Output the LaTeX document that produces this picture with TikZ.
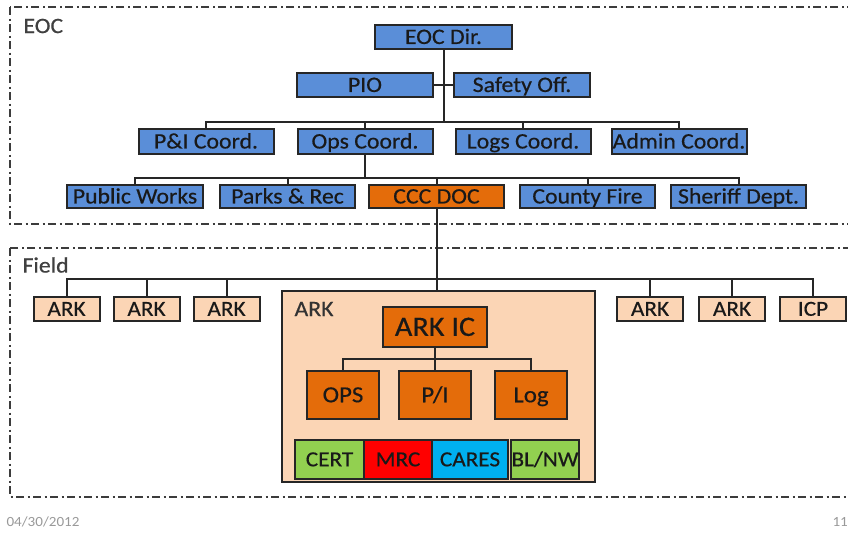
\documentclass[tikz,border=0pt]{standalone}
\usepackage{fontspec}
\setmainfont{Carlito}[FakeStretch=1.08, FakeBold=0.5]
\newfontfamily\fussfont{Carlito}[FakeStretch=1.08]
\usetikzlibrary{positioning}
\definecolor{amt}{HTML}{5A8ED8}
\definecolor{glut}{HTML}{E46C0A}
\definecolor{haut}{HTML}{FBD5B5}
\definecolor{gras}{HTML}{92D050}
\definecolor{rot}{HTML}{FF0000}
\definecolor{eis}{HTML}{00B0F0}
\definecolor{kante}{HTML}{262626}

\begin{document}
\begin{tikzpicture}[x=1pt, y=-1pt,
      box/.style={draw=kante, line width=2pt, fill=amt, text=black!90,
        inner sep=0pt, outer sep=0pt, minimum width=135pt, minimum height=24pt,
        text height=13.9pt, text depth=0pt,
        font=\fontsize{22}{24}\selectfont},
      hot/.style={box, fill=glut},
      ark/.style={box, fill=haut, minimum width=66pt, text height=13.6pt,
        font=\fontsize{21.5}{23}\selectfont},
      team/.style={box, minimum height=39pt, text height=13.6pt,
        font=\fontsize{21.5}{23}\selectfont},
      sect/.style={hot, minimum width=72pt, minimum height=48pt, text height=14.5pt,
        font=\fontsize{23}{25}\selectfont},
      zone/.style={text=black!75, anchor=west, font=\fontsize{22}{24}\selectfont},
      verb/.style={draw=kante, line width=2pt},
      rahmen/.style={draw=kante!90, line width=1.6pt,
        dash pattern=on 8pt off 3.5pt on 2pt off 3.5pt},
      fuss/.style={text=black!40, anchor=west, font=\fussfont\fontsize{14}{15}\selectfont}]
    \useasboundingbox (0,0) rectangle (848,533);
    \clip (0,0) rectangle (848,533);

    % dashed areas
    \draw[rahmen] (10,7) rectangle (870,224);
    \draw[rahmen] (10,248) rectangle (870,497);
    \node[zone] (eoc) at (20,26) {EOC};
    \node[zone] (field) at (19,265) {Field};

    % EOC
    \node[box, minimum width=137pt] (dir) at (443.5,37) {EOC Dir.};
    \node[box, minimum width=136pt] (pio) at (365,85) {PIO};
    \node[box, minimum width=136pt, right=21pt of pio] (safe) {Safety Off.};
    \node[box, minimum height=25pt] (pi) at (206,141.5) {P\&I Coord.};
    \node[box, minimum height=25pt, right=24pt of pi] (ops) {Ops Coord.};
    \node[box, minimum height=25pt, right=23pt of ops] (logs) {Logs Coord.};
    \node[box, minimum height=25pt, right=21pt of logs] (admin) {Admin Coord.};
    \node[box, minimum width=136pt, minimum height=23pt] (pw) at (135,196.5) {Public Works};
    \node[box, minimum height=23pt, right=17pt of pw] (parks) {Parks \& Rec};
    \node[hot, minimum height=23pt, right=14pt of parks] (doc) {CCC DOC};
    \node[box, minimum height=23pt, right=16pt of doc] (fire) {County Fire};
    \node[box, minimum height=23pt, right=16pt of fire] (sheriff) {Sheriff Dept.};

    \coordinate (k1) at (dir.south |- 0,122);
    \coordinate (k2) at (ops.south |- 0,178);
    \draw[verb] (dir.south) -- (k1);
    \draw[verb] (pio.east) -- (safe.west);
    \foreach \n in {pi, ops, logs, admin}
      \draw[verb] (\n.north) |- (k1);
    \draw[verb] (ops.south) -- (k2);
    \foreach \n in {pw, parks, doc, fire, sheriff}
      \draw[verb] (\n.north) |- (k2);

    % Field
    \node[ark] (a1) at (66.5,309) {ARK};
    \node[ark, right=14pt of a1] (a2) {ARK};
    \node[ark, right=14pt of a2] (a3) {ARK};
    \node[ark] (a4) at (650,309) {ARK};
    \node[ark, right=16pt of a4] (a5) {ARK};
    \node[ark, right=15pt of a5] (icp) {ICP};
    \node[box, fill=haut, minimum width=313pt, minimum height=191pt] (arkbox) at (438.5,386.5) {};
    \node[zone, text=black!80] (arklabel) at (291,309) {ARK};

    \coordinate (k3) at (doc.south |- 0,279);
    \draw[verb] (doc.south) -- (doc.south |- arkbox.north);
    \foreach \n in {a1, a2, a3, a4, a5, icp}
      \draw[verb] (\n.north) |- (k3);

    % inside the ARK
    \node[hot, minimum width=104pt, minimum height=40pt, text height=17.7pt,
      font=\fontsize{28}{30}\selectfont] (ic) at (435,327) {ARK IC};
    \node[sect] (sec1) at (343,395) {OPS};
    \node[sect, right=20pt of sec1] (sec2) {P/I};
    \node[sect, right=24pt of sec2] (sec3) {Log};
    \coordinate (k4) at (ic.south |- 0,359);
    \draw[verb] (ic.south) -- (k4);
    \foreach \n in {sec1, sec2, sec3}
      \draw[verb] (\n.north) |- (k4);

    \node[team, fill=gras, minimum width=69pt] (cert) at (329.5,459.5) {CERT};
    \node[team, fill=rot, minimum width=68pt, right=0pt of cert] (mrc) {MRC};
    \node[team, fill=eis, minimum width=76pt, right=0pt of mrc] (cares) {CARES};
    \node[team, fill=gras, minimum width=68pt, right=3pt of cares] (blnw) {BL/NW};

    % footer
    \node[fuss] (date) at (3,522) {04/30/2012};
    \node[fuss] (page) at (829,522) {11};
\end{tikzpicture}
\end{document}
